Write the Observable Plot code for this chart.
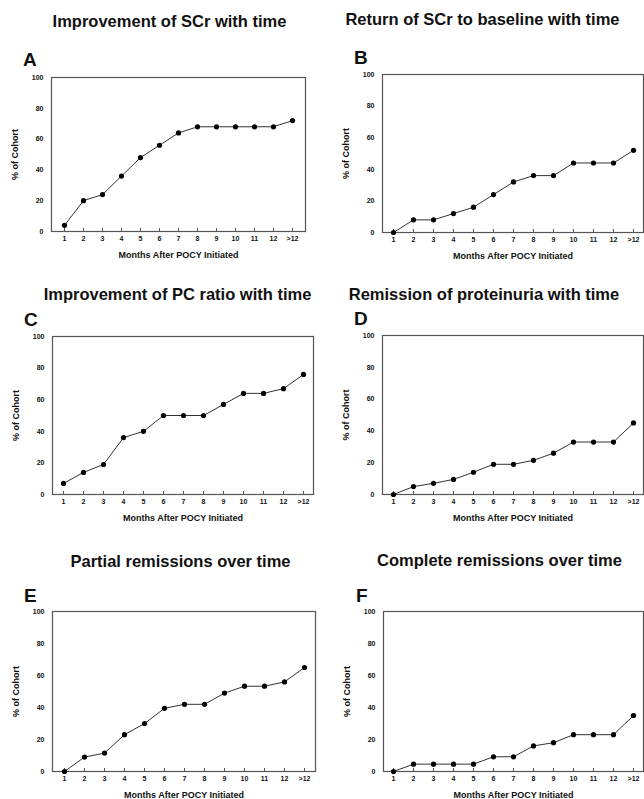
<!DOCTYPE html>
<html><head><meta charset="utf-8">
<script src="https://cdn.jsdelivr.net/npm/d3@7"></script>
<script src="https://cdn.jsdelivr.net/npm/@observablehq/plot@0.6"></script>
<style>
body{margin:0;background:#fff;}
#wrap{position:relative;width:644px;height:799px;overflow:hidden;font-family:"Liberation Sans",Arial,sans-serif;color:#111;}
.panel{position:absolute;}
.title{position:absolute;font-weight:bold;font-size:16.5px;white-space:nowrap;transform:translateX(-50%);line-height:1;}
.letter{position:absolute;font-weight:bold;font-size:19px;line-height:1;}
</style></head><body><div id="wrap"></div>
<script>
const months = ["1","2","3","4","5","6","7","8","9","10","11","12",">12"];
const titles = ["Improvement of SCr with time","Return of SCr to baseline with time","Improvement of PC ratio with time","Remission of proteinuria with time","Partial remissions over time","Complete remissions over time"];
const letters = ["A","B","C","D","E","F"];
const yTicks = [0,20,40,60,80,100];
const scrImprovement = [4,20,24,36,48,56,64,68,68,68,68,68,72];
const scrBaseline = [0,8,8,12,16,24,32,36,36,44,44,44,52];
const pcImprovement = [7,14,19,36,40,50,50,50,57,64,64,67,76];
const proteinuriaRemission = [0,5,7,9.5,14,19,19,21.5,26,33,33,33,45];
const partialRemission = [0,9,11.5,23,30,39.5,42,42,49,53.3,53.3,56,65];
const completeRemission = [0,4.6,4.6,4.6,4.6,9.2,9.2,16,18,23,23,23,35];
const series = [scrImprovement, scrBaseline, pcImprovement, proteinuriaRemission, partialRemission, completeRemission];

// layout: panel origin, size, margins, title/letter positions
const layout = [
  {ox:0,   oy:0,   w:322, h:262, ml:51, mr:17, mt:77, mb:31, tx:169.5, ty:13,  lx:23,  ly:49.5},
  {ox:322, oy:0,   w:322, h:262, ml:60, mr:1,  mt:74, mb:30, tx:482.5, ty:11,  lx:354, ly:47.5},
  {ox:0,   oy:262, w:322, h:265, ml:52, mr:9,  mt:74, mb:33, tx:177.5, ty:286, lx:24,  ly:309.5},
  {ox:322, oy:262, w:322, h:265, ml:60, mr:1,  mt:73, mb:33, tx:484,   ty:286, lx:354, ly:308.5},
  {ox:0,   oy:527, w:322, h:272, ml:52, mr:7,  mt:84, mb:28, tx:180.5, ty:553, lx:24,  ly:585.5},
  {ox:322, oy:527, w:322, h:272, ml:61, mr:1,  mt:84, mb:28, tx:499.5, ty:552, lx:356, ly:585.5}
];

const wrap = document.getElementById("wrap");
series.forEach((vals, i) => {
  const L = layout[i];
  const data = months.map((m, j) => ({month: m, pct: vals[j]}));
  const innerH = L.h - L.mt - L.mb;
  const chart = Plot.plot({
    width: L.w, height: L.h,
    marginLeft: L.ml, marginRight: L.mr, marginTop: L.mt, marginBottom: L.mb,
    style: {fontFamily: '"Liberation Sans", Arial, sans-serif', background: "transparent", color: "#111", overflow: "visible"},
    x: {type: "point", domain: months, padding: 0.5},
    y: {domain: [0, 100]},
    marks: [
      Plot.frame({stroke: "#555", strokeWidth: 1.2}),
      Plot.tickX(months, {x: d => d, stroke: "#555", strokeWidth: 1, insetTop: innerH - 3}),
      Plot.axisX({tickSize: 0, tickPadding: 5, fontSize: 7, fontWeight: "bold",
        label: "Months After POCY Initiated", labelAnchor: "center", labelOffset: 26, labelArrow: "none"}),
      Plot.axisY({ticks: yTicks, tickSize: 0, tickPadding: 8, fontSize: 7, fontWeight: "bold",
        label: "% of Cohort", labelAnchor: "center", labelOffset: 40, labelArrow: "none"}),
      Plot.line(data, {x: "month", y: "pct", stroke: "#333", strokeWidth: 1}),
      Plot.dot(data, {x: "month", y: "pct", r: 2.6, fill: "#000", stroke: "none"})
    ]
  });
  chart.classList.add("panel");
  chart.style.left = L.ox + "px";
  chart.style.top = L.oy + "px";
  chart.querySelectorAll('[aria-label="x-axis label"] text, [aria-label="y-axis label"] text').forEach(t => {
    t.setAttribute("font-size", "9"); t.setAttribute("font-weight", "bold");
  });
  wrap.appendChild(chart);
  const t = document.createElement("div");
  t.className = "title"; t.textContent = titles[i];
  t.style.left = L.tx + "px"; t.style.top = L.ty + "px";
  wrap.appendChild(t);
  const l = document.createElement("div");
  l.className = "letter"; l.textContent = letters[i];
  l.style.left = L.lx + "px"; l.style.top = L.ly + "px";
  wrap.appendChild(l);
});
</script></body></html>
